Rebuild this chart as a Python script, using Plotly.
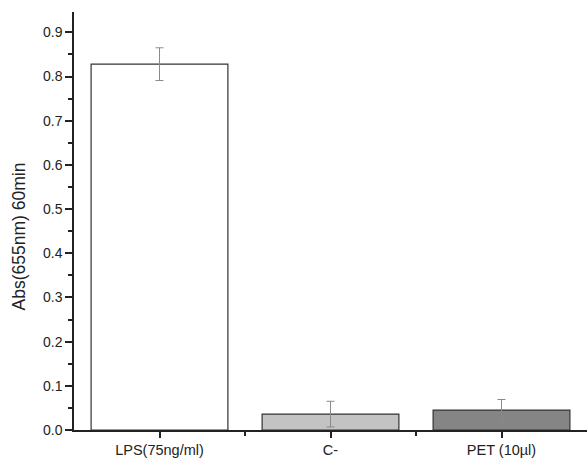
import plotly.graph_objects as go

# Absorbance readings at 655 nm after 60 min
categories = ["LPS(75ng/ml)", "C-", "PET (10µl)"]
positions = [1, 2, 3]
absorbance = [0.828, 0.036, 0.045]
abs_error = [0.037, 0.029, 0.024]
bar_colors = ["#ffffff", "#c3c3c3", "#858585"]
y_ticks = [0.0, 0.1, 0.2, 0.3, 0.4, 0.5, 0.6, 0.7, 0.8, 0.9]
y_title = "Abs(655nm) 60min"

fig = go.Figure()
fig.add_trace(go.Bar(
    x=positions,
    y=absorbance,
    width=0.8,
    marker=dict(color=bar_colors, line=dict(color="#333333", width=1.2)),
    error_y=dict(type="data", array=abs_error, visible=True,
                 color="#8a8a8a", thickness=1, width=4),
))

fig.update_layout(
    width=587, height=461,
    margin=dict(l=74, r=0, t=12, b=31),
    paper_bgcolor="white", plot_bgcolor="white",
    showlegend=False,
    font=dict(family="Liberation Sans, Arial, sans-serif", color="#222222"),
)
# vertical axis label, placed a little below the axis midpoint
fig.add_annotation(
    text=y_title, textangle=-90,
    xref="paper", yref="paper", x=0, y=0.463,
    xanchor="center", yanchor="middle", xshift=-55,
    showarrow=False, font=dict(size=17.5, color="#222222"),
)
fig.update_xaxes(
    range=[0.5, 3.5],
    tickvals=positions, ticktext=categories,
    tickfont=dict(size=14.5),
    showgrid=False, zeroline=False,
    showline=True, linecolor="#222222", linewidth=1.5,
    ticks="outside", ticklen=6, tickwidth=1.5, tickcolor="#222222",
    minor=dict(tickvals=[1.5, 2.5], ticks="outside", ticklen=4,
               tickwidth=1.5, tickcolor="#222222", showgrid=False),
)
fig.update_yaxes(
    range=[0, 0.946],
    tickvals=y_ticks, ticktext=[f"{v:.1f}" for v in y_ticks],
    tickfont=dict(size=14),
    showgrid=False, zeroline=False,
    showline=True, linecolor="#222222", linewidth=1.5,
    ticks="outside", ticklen=7, tickwidth=1.5, tickcolor="#222222",
    minor=dict(dtick=0.05, tick0=0.05, ticks="outside", ticklen=4,
               tickwidth=1.5, tickcolor="#222222", showgrid=False),
)

fig.write_html("out.html")
